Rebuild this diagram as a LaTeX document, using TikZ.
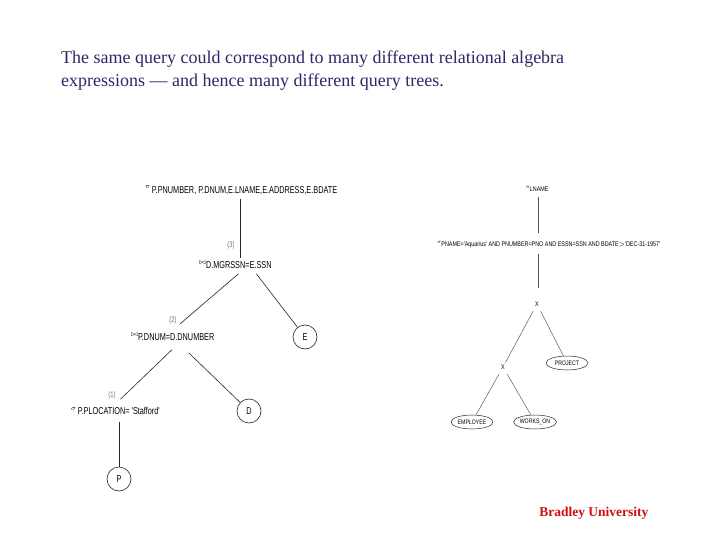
\documentclass[tikz,border=0pt]{standalone}
\usepackage{fontspec}
\setmainfont{Liberation Serif}
\newfontfamily\narrowsf[FakeStretch=0.73]{Liberation Sans}
\newfontfamily\tinysf[FakeStretch=0.8]{Liberation Sans}
\usepackage{tikz}
\usetikzlibrary{positioning, calc, shapes.geometric}
\definecolor{qnavy}{HTML}{2B2966}
\definecolor{qred}{HTML}{D01010}
\definecolor{qline}{HTML}{262626}
\definecolor{qgray}{HTML}{707070}

\tikzset{
  rel/.style={font=\narrowsf\fontsize{10}{11}\selectfont, inner sep=2pt, anchor=west},
  rrel/.style={font=\tinysf\fontsize{6.75}{8}\selectfont, inner sep=2pt},
  leaf/.style={circle, draw=qline, line width=0.6pt, minimum size=24pt, inner sep=0pt,
    font=\narrowsf\fontsize{10}{11}\selectfont},
  rleaf/.style={ellipse, draw=qline, line width=0.5pt, minimum width=42pt, minimum height=14pt,
    inner sep=0pt, font=\tinysf\fontsize{6.5}{7}\selectfont},
  step label/.style={font=\narrowsf\fontsize{8}{9}\selectfont, text=qgray, inner sep=0pt},
  edge/.style={draw=qline, line width=0.6pt},
  redge/.style={draw=qline!80, line width=0.45pt}
}

\begin{document}
\begin{tikzpicture}[x=1pt, y=-1pt]

  \fill[white] (0,0) rectangle (720,540);
  \useasboundingbox (0,0) rectangle (720,540);

  %% Heading
  \node[font=\fontsize{18}{23}\selectfont, text=qnavy, anchor=north west, align=left, inner sep=0pt]
    (title) at (61,51)
    {The same query could correspond to many different relational algebra\\
     expressions --- and hence many different query trees.};

  %% Left tree
  \node[rel] (proj) at (143,190)
    {\raisebox{5pt}{\fontsize{7}{7}\selectfont$\pi$}\,P.PNUMBER, P.DNUM,E.LNAME,E.ADDRESS,E.BDATE};
  \node[rel] (join1) at (197,265)
    {\raisebox{4pt}{\fontsize{7}{7}\selectfont$\bowtie$}D.MGRSSN=E.SSN};
  \node[rel] (join2) at (129,337)
    {\raisebox{4pt}{\fontsize{7}{7}\selectfont$\bowtie$}P.DNUM=D.DNUMBER};
  \node[rel] (sel) at (69,411)
    {\raisebox{4pt}{\fontsize{7}{7}\selectfont$\sigma$}\,P.PLOCATION= 'Stafford'};
  \node[leaf] (relE) at (305,337) {E};
  \node[leaf] (relD) at (249,411) {D};
  \node[leaf] (relP) at (119,479) {P};

  \node[step label] (s3) at (231,245) {(3)};
  \node[step label] (s2) at (173,320) {(2)};
  \node[step label] (s1) at (112,395) {(1)};

  \draw[edge] ([yshift=-2pt]proj.south -| 240,0) -- (240,258);
  \draw[edge] ([xshift=3pt,yshift=-3pt]join1.south) -- ([xshift=7pt,yshift=7pt]join2.north);
  \draw[edge] ([xshift=21pt,yshift=-3pt]join1.south) -- (relE);
  \draw[edge] ([xshift=-1pt,yshift=-7pt]join2.south) -- ([xshift=5pt,yshift=6pt]sel.north);
  \draw[edge] ([xshift=16pt,yshift=-10pt]join2.south) -- (relD);
  \draw[edge] ([yshift=-5pt]sel.south -| relP) -- (relP);

  %% Right tree
  \node[rrel] (rproj) at (537,189)
    {\raisebox{3pt}{\fontsize{4.5}{4.5}\selectfont$\pi$}LNAME};
  \node[rrel, anchor=west] (rsel) at (435,245)
    {\raisebox{3pt}{\fontsize{4.5}{4.5}\selectfont$\sigma$}PNAME='Aquarius' AND PNUMBER=PNO AND ESSN=SSN AND BDATE$>$'DEC-31-1957'};
  \node[rrel] (cross1) at (537,304) {X};
  \node[rrel] (cross2) at (503,367) {X};
  \node[rleaf] (project) at (567,363) {PROJECT};
  \node[rleaf] (employee) at (472,422) {EMPLOYEE};
  \node[rleaf] (workson) at (535,422) {WORKS\_ON};

  \draw[redge] ([yshift=-3pt]rproj.south -| 538,0) -- (538,233);
  \draw[redge] ([yshift=-4pt]rsel.south -| 538,0) -- (538,288);
  \draw[redge, shorten <=3pt] (cross1) -- (cross2);
  \draw[redge, shorten <=3pt] (cross1) -- (project);
  \draw[redge, shorten <=3pt] (cross2) -- (employee);
  \draw[redge, shorten <=3pt] (cross2) -- (workson);

  %% Footer
  \node[font=\bfseries\fontsize{13.5}{15}\selectfont, text=qred, anchor=east] (footer) at (652,513)
    {Bradley University};

\end{tikzpicture}
\end{document}
